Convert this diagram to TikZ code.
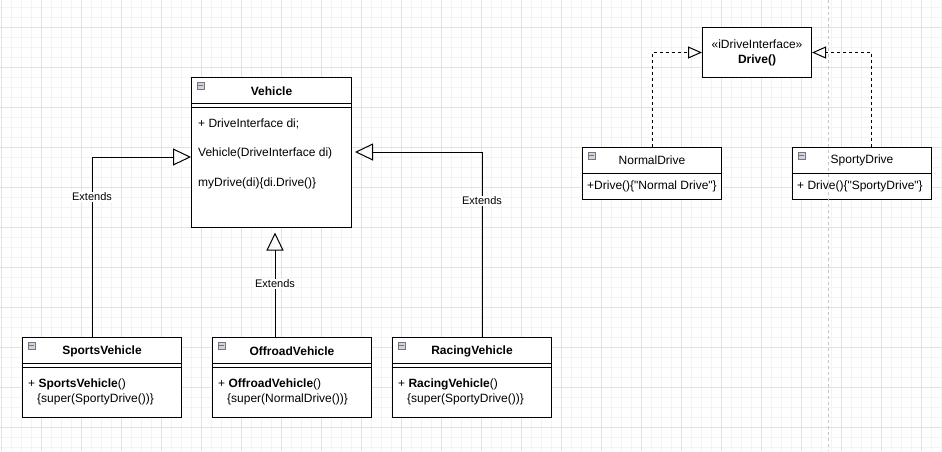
\documentclass[tikz,border=0pt]{standalone}
\usepackage{fontspec}
\setmainfont{Liberation Sans}
\usetikzlibrary{arrows.meta}
\definecolor{gridmajor}{HTML}{E2E2E2}
\definecolor{gridminor}{HTML}{F3F3F3}
\definecolor{pagebreak}{HTML}{C4C4C4}
\definecolor{iconfill}{HTML}{D2D2DA}
\definecolor{iconline}{HTML}{76767E}

\begin{document}
\begin{tikzpicture}[x=1pt,y=-1pt,
  classbox/.style={draw=black, fill=white, line width=1pt, inner sep=0pt, anchor=north west},
  txt/.style={inner sep=0pt, font=\fontsize{12}{14}\selectfont},
  body/.style={txt, anchor=west},
  title/.style={txt, font=\fontsize{12}{14}\selectfont\bfseries},
  lbl/.style={fill=white, inner sep=1pt, font=\fontsize{11}{13}\selectfont},
  divider/.style={line width=1pt},
  foldicon/.style={draw=iconline, fill=iconfill, minimum size=7pt, inner sep=0pt, line width=0.6pt,
    path picture={\draw[iconline, line width=0.9pt]
      ([xshift=1.3pt]path picture bounding box.west) -- ([xshift=-1.3pt]path picture bounding box.east);}},
  extends/.style={line width=1pt, -{Triangle[open, length=18pt, width=17pt, line width=1pt]}},
  realizes/.style={line width=1pt, dash pattern=on 3pt off 3pt, -{Triangle[open, length=14pt, width=12pt, line width=1pt]}},
]
\useasboundingbox (0,0) rectangle (942,451);
\fill[white] (0,0) rectangle (942,451);

% background grid
\foreach \x in {1,11,...,941} \draw[gridminor, line width=1pt] (\x,0) -- (\x,451);
\foreach \y in {7,17,...,447} \draw[gridminor, line width=1pt] (0,\y) -- (942,\y);
\foreach \x in {1,41,...,921} \draw[gridmajor, line width=1pt] (\x,0) -- (\x,451);
\foreach \y in {27,67,...,427} \draw[gridmajor, line width=1pt] (0,\y) -- (942,\y);

% ---- Vehicle base class ----
\node[classbox, minimum width=160pt, minimum height=150pt] (vehicle) at (191,77) {};
\draw[divider] ([yshift=-26pt]vehicle.north west) -- ([yshift=-26pt]vehicle.north east);
\draw[divider] ([yshift=-30pt]vehicle.north west) -- ([yshift=-30pt]vehicle.north east);
\node[foldicon] (vehicle-icon) at ([xshift=9.5pt,yshift=-8.5pt]vehicle.north west) {};
\node[title] (vehicle-name) at ([yshift=-14pt]vehicle.north) {Vehicle};
\node[body] (vehicle-f1) at ([xshift=7pt,yshift=-47pt]vehicle.north west) {+ DriveInterface di;};
\node[body] (vehicle-f2) at ([xshift=7pt,yshift=-76pt]vehicle.north west) {Vehicle(DriveInterface di)};
\node[body] (vehicle-f3) at ([xshift=7pt,yshift=-106pt]vehicle.north west) {myDrive(di)\{di.Drive()\}};

% ---- subclasses ----
\node[classbox, minimum width=159pt, minimum height=80pt] (sports) at (22,337) {};
\node[classbox, minimum width=159pt, minimum height=80pt] (offroad) at (212,337) {};
\node[classbox, minimum width=159pt, minimum height=80pt] (racing) at (392,337) {};
\foreach \c in {sports,offroad,racing} {
  \draw[divider] ([yshift=-26pt]\c.north west) -- ([yshift=-26pt]\c.north east);
  \draw[divider] ([yshift=-30pt]\c.north west) -- ([yshift=-30pt]\c.north east);
  \node[foldicon] (\c-icon) at ([xshift=9.5pt,yshift=-8.5pt]\c.north west) {};
}
\node[title] (sports-name) at ([yshift=-14pt]sports.north) {SportsVehicle};
\node[body] (sports-f1) at ([xshift=6pt,yshift=-47pt]sports.north west) {+ \textbf{SportsVehicle}()};
\node[body] (sports-f2) at ([xshift=15pt,yshift=-62pt]sports.north west) {\{super(SportyDrive())\}};
\node[title] (offroad-name) at ([yshift=-14pt]offroad.north) {OffroadVehicle};
\node[body] (offroad-f1) at ([xshift=6pt,yshift=-47pt]offroad.north west) {+ \textbf{OffroadVehicle}()};
\node[body] (offroad-f2) at ([xshift=15pt,yshift=-62pt]offroad.north west) {\{super(NormalDrive())\}};
\node[title] (racing-name) at ([yshift=-14pt]racing.north) {RacingVehicle};
\node[body] (racing-f1) at ([xshift=6pt,yshift=-47pt]racing.north west) {+ \textbf{RacingVehicle}()};
\node[body] (racing-f2) at ([xshift=15pt,yshift=-62pt]racing.north west) {\{super(SportyDrive())\}};

% ---- interface and implementations ----
\node[classbox, minimum width=109pt, minimum height=50pt] (iface) at (702,27) {};
\node[txt, align=center, font=\fontsize{12}{15}\selectfont] (iface-text) at (iface.center)
  {«iDriveInterface»\\\textbf{Drive()}};

\node[classbox, minimum width=139pt, minimum height=52pt] (normal) at (582,147) {};
\node[classbox, minimum width=139pt, minimum height=52pt] (sporty) at (792,147) {};
\foreach \c in {normal,sporty} {
  \draw[divider] ([yshift=-26pt]\c.north west) -- ([yshift=-26pt]\c.north east);
  \node[foldicon] (\c-icon) at ([xshift=9.5pt,yshift=-8.5pt]\c.north west) {};
}
\node[txt] (normal-name) at ([yshift=-13pt]normal.north) {NormalDrive};
\node[body] (normal-f1) at ([xshift=5pt,yshift=-39pt]normal.north west)
  {+Drive()\{\textquotedbl Normal Drive\textquotedbl\}};
\node[txt] (sporty-name) at ([yshift=-13pt]sporty.north) {SportyDrive};
\node[body] (sporty-f1) at ([xshift=5pt,yshift=-39pt]sporty.north west)
  {+ Drive()\{\textquotedbl SportyDrive\textquotedbl\}};

% ---- generalisation connectors ----
\coordinate (sv-bend) at (92,157);
\coordinate (rv-bend) at (482,152);
\coordinate (ov-x) at (275,0);
\draw[extends] (sports.north -| sv-bend) |- (vehicle.west |- sv-bend);
\draw[extends, shorten >=3pt] (racing.north -| rv-bend) |- (vehicle.east |- rv-bend);
\draw[extends, shorten >=4.5pt] (offroad.north -| ov-x) -- (vehicle.south -| ov-x);
\node[lbl] (sv-label) at (92,197) {Extends};
\node[lbl] (ov-label) at (275,284) {Extends};
\node[lbl] (rv-label) at (482,201) {Extends};

% ---- realisation connectors ----
\coordinate (nd-bend) at (652,52);
\coordinate (sd-bend) at (871,52);
\draw[realizes] (normal.north -| nd-bend) |- (iface.west);
\draw[realizes] (sporty.north -| sd-bend) |- (iface.east);

% page break marker
\draw[pagebreak, line width=1pt, dash pattern=on 3pt off 3pt] (828.5,0) -- (828.5,451);
\end{tikzpicture}
\end{document}
